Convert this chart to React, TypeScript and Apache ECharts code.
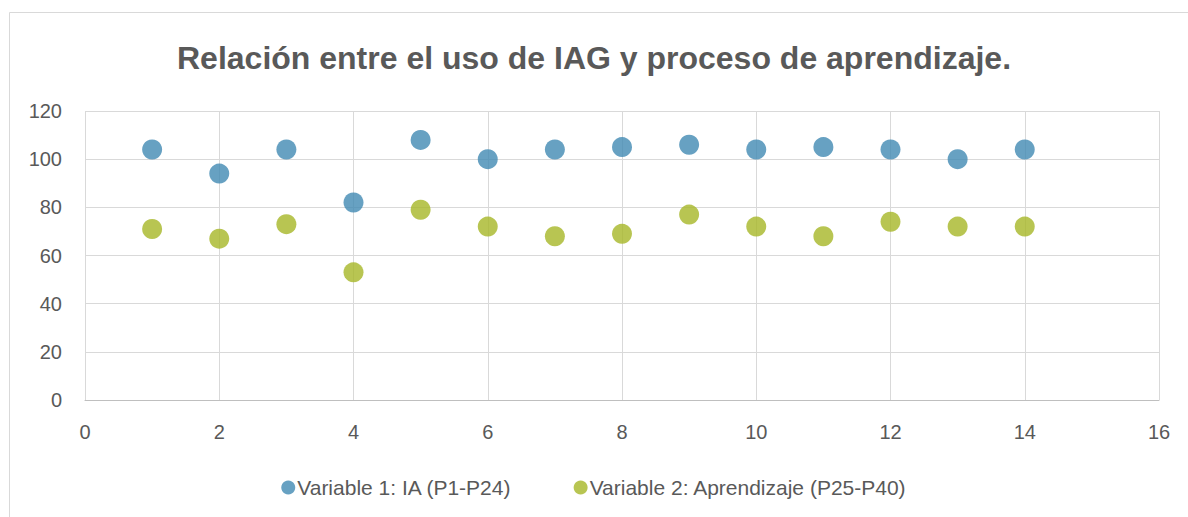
import React, { useEffect, useRef } from "react";
import * as echarts from "echarts";

const titleText = "Relación entre el uso de IAG y proceso de aprendizaje.";
const seriesNames = ["Variable 1: IA (P1-P24)", "Variable 2: Aprendizaje (P25-P40)"];
const xValues = [1, 2, 3, 4, 5, 6, 7, 8, 9, 10, 11, 12, 13, 14];
const iaValues = [104, 94, 104, 82, 108, 100, 104, 105, 106, 104, 105, 104, 100, 104];
const aprendizajeValues = [71, 67, 73, 53, 79, 72, 68, 69, 77, 72, 68, 74, 72, 72];
const colors = ["#418AB3", "#A6B727"];

const FONT = "'Liberation Sans', 'Open Sans', sans-serif";

export default function App() {
  const ref = useRef<HTMLDivElement>(null);
  useEffect(() => {
    if (!ref.current) return;
    const chart = echarts.init(ref.current, undefined, { renderer: "svg" });
    const mk = (vals: number[]) => xValues.map((x, i) => [x, vals[i]]);
    chart.setOption({
      animation: false,
      backgroundColor: "#ffffff",
      color: colors,
      textStyle: { fontFamily: FONT },
      graphic: [
        {
          type: "rect",
          shape: { x: 9.5, y: 12.5, width: 1300, height: 700 },
          style: { fill: "none", stroke: "#d9d9d9", lineWidth: 1 },
          silent: true,
          z: -10,
        },
      ],
      title: {
        text: titleText,
        left: "center",
        top: 37,
        textStyle: { fontFamily: FONT, fontSize: 32, fontWeight: "bold", color: "#595959" },
      },
      grid: { left: 85, right: 29, top: 111, bottom: 117, containLabel: false },
      xAxis: {
        type: "value",
        min: 0,
        max: 16,
        interval: 2,
        axisLine: { show: true, lineStyle: { color: "#bfbfbf", width: 1 } },
        axisTick: { show: false },
        axisLabel: { color: "#595959", fontSize: 20, margin: 22, fontFamily: FONT },
        splitLine: { show: true, lineStyle: { color: "#d9d9d9", width: 1 } },
      },
      yAxis: {
        type: "value",
        min: 0,
        max: 120,
        interval: 20,
        axisLine: { show: false },
        axisTick: { show: false },
        axisLabel: { color: "#595959", fontSize: 20, margin: 23, fontFamily: FONT },
        splitLine: { show: true, lineStyle: { color: "#d9d9d9", width: 1 } },
      },
      legend: {
        top: 472,
        left: "center",
        icon: "circle",
        itemWidth: 14,
        itemHeight: 14,
        itemGap: 62,
        textStyle: { color: "#595959", fontSize: 21, fontFamily: FONT, padding: [0, 0, 0, -3] },
        data: seriesNames,
      },
      series: [
        {
          name: seriesNames[0],
          type: "scatter",
          symbol: "circle",
          symbolSize: 20,
          data: mk(iaValues),
          itemStyle: { color: colors[0] },
        },
        {
          name: seriesNames[1],
          type: "scatter",
          symbol: "circle",
          symbolSize: 20,
          data: mk(aprendizajeValues),
          itemStyle: { color: colors[1] },
        },
      ],
    });
    return () => chart.dispose();
  }, []);
  return <div ref={ref} style={{ width: 1188, height: 517, position: "absolute", left: 0, top: 0 }} />;
}
